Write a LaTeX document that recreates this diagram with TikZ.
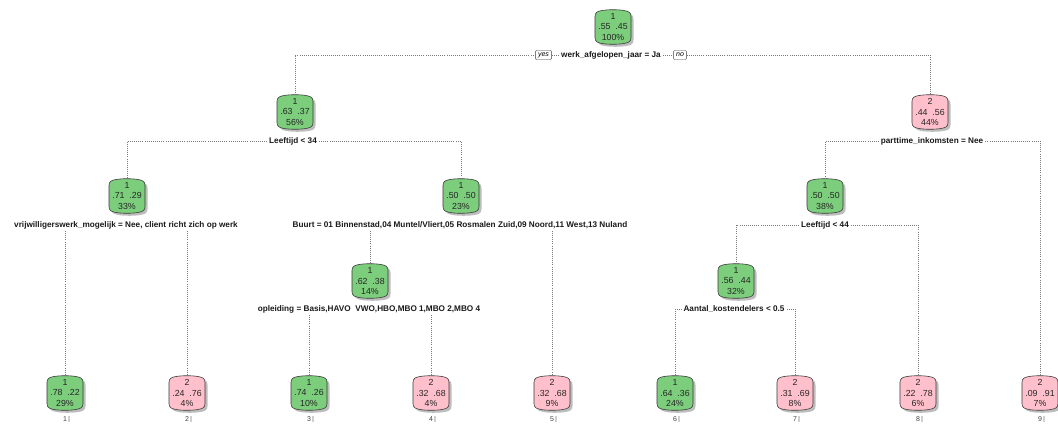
\documentclass[tikz,border=0pt]{standalone}
\usepackage{fontspec}
\setmainfont{Liberation Sans}
\definecolor{gfill}{HTML}{7CCD7C}
\definecolor{pfill}{HTML}{FFC0CB}
\definecolor{edgec}{HTML}{3A3A3A}
\definecolor{shadc}{HTML}{BDBDBD}
\definecolor{barc}{HTML}{CFCFCF}
\definecolor{linec}{HTML}{7A7A7A}
\tikzset{
  bpath/.style={insert path={(-18,-10.5) -- (-18,10.5) .. controls (-18,14.5) and (-15.5,15.7) .. (-12,16.3) .. controls (-6,17.6) and (6,17.6) .. (12,16.3) .. controls (15.5,15.7) and (18,14.5) .. (18,10.5) -- (18,-10.5) .. controls (18,-14.5) and (15.5,-15.7) .. (12,-16.3) .. controls (6,-17.6) and (-6,-17.6) .. (-12,-16.3) .. controls (-15.5,-15.7) and (-18,-14.5) .. (-18,-10.5) -- cycle}},
  ntext/.style={inner sep=0pt, minimum width=36pt, minimum height=35pt, align=center, font=\fontsize{8.8}{10.5}\selectfont, text=black!85},
  split/.style={font=\fontsize{8.2}{9}\selectfont\bfseries, inner sep=2pt, text=black!90},
  conn/.style={draw=linec, line width=0.55pt, dash pattern=on 0.6pt off 1.5pt},
  yn/.style={draw=edgec, fill=white, rounded corners=1pt, font=\fontsize{7}{7}\selectfont\itshape, inner xsep=2.5pt, inner ysep=1pt, line width=0.45pt, minimum height=9pt},
  leafnum/.style={font=\fontsize{7}{7}\selectfont, inner sep=0.8pt, text=black!75}
}
\newcommand\tn[5]{%
  \fill[shadc, shift={(#2+2.5,#3+2.5)}, bpath];
  \draw[edgec, line width=0.6pt, fill=#4, shift={(#2,#3)}, bpath];
  \node[ntext] (#1) at (#2,#3) {#5};
}
\begin{document}
\begin{tikzpicture}[x=1pt,y=-1pt]
\useasboundingbox (0,0) rectangle (1058,428);
\clip (0,0) rectangle (1058,428);
% internal nodes
\tn{n1}{613}{27}{gfill}{1\\.55\ \ .45\\100\%}
\tn{n2}{295}{112}{gfill}{1\\.63\ \ .37\\56\%}
\tn{n3}{930}{112}{pfill}{2\\.44\ \ .56\\44\%}
\tn{n4}{127}{196}{gfill}{1\\.71\ \ .29\\33\%}
\tn{n5}{461}{196}{gfill}{1\\.50\ \ .50\\23\%}
\tn{n6}{825}{196}{gfill}{1\\.50\ \ .50\\38\%}
\tn{n10}{370}{281}{gfill}{1\\.62\ \ .38\\14\%}
\tn{n12}{736}{281}{gfill}{1\\.56\ \ .44\\32\%}
% leaves
\tn{l1}{65}{393}{gfill}{1\\.78\ \ .22\\29\%}
\tn{l2}{187}{393}{pfill}{2\\.24\ \ .76\\4\%}
\tn{l3}{309}{393}{gfill}{1\\.74\ \ .26\\10\%}
\tn{l4}{431}{393}{pfill}{2\\.32\ \ .68\\4\%}
\tn{l5}{552}{393}{pfill}{2\\.32\ \ .68\\9\%}
\tn{l6}{675}{393}{gfill}{1\\.64\ \ .36\\24\%}
\tn{l7}{795}{393}{pfill}{2\\.31\ \ .69\\8\%}
\tn{l8}{918}{393}{pfill}{2\\.22\ \ .78\\6\%}
\tn{l9}{1040}{393}{pfill}{2\\.09\ \ .91\\7\%}
% split labels
\node[split] (s1) at (611,55) {werk\_afgelopen\_jaar = Ja};
\node[yn] (yes) at (543.5,55) {yes};
\node[yn] (no) at (680,55) {no};
\node[split] (s2) at (293,141) {Leeftijd < 34};
\node[split] (s3) at (932,141) {parttime\_inkomsten = Nee};
\node[split] (s4) at (126,225) {vrijwilligerswerk\_mogelijk = Nee, client richt zich op werk};
\node[split] (s5) at (460,225) {Buurt = 01 Binnenstad,04 Muntel/Vliert,05 Rosmalen Zuid,09 Noord,11 West,13 Nuland};
\node[split] (s6) at (825,225) {Leeftijd < 44};
\node[split] (s10) at (369,309) {opleiding = Basis,HAVO\ \ VWO,HBO,MBO 1,MBO 2,MBO 4};
\node[split] (s12) at (734,309) {Aantal\_kostendelers < 0.5};
% connectors
\draw[conn] (yes.west) -| (n2.north);
\draw[conn] (yes.east) -- (s1.west);
\draw[conn] (s1.east) -- (no.west);
\draw[conn] (no.east) -| (n3.north);
\draw[conn] (s2.west) -| (n4.north);
\draw[conn] (s2.east) -| (n5.north);
\draw[conn] (s3.west) -| (n6.north);
\draw[conn] (s3.east) -| (l9.north);
\draw[conn] (s4.south -| l1.north) -- (l1.north);
\draw[conn] (s4.south -| l2.north) -- (l2.north);
\draw[conn] (s5.south -| n10.north) -- (n10.north);
\draw[conn] (s5.south -| l5.north) -- (l5.north);
\draw[conn] (s6.west) -| (n12.north);
\draw[conn] (s6.east) -| (l8.north);
\draw[conn] (s10.south -| l3.north) -- (l3.north);
\draw[conn] (s10.south -| l4.north) -- (l4.north);
\draw[conn] (s12.west) -| (l6.north);
\draw[conn] (s12.east) -| (l7.north);
% leaf numbers
\foreach \i/\x in {1/65,2/187,3/309,4/431,5/552,6/675,7/795,8/918,9/1040}{
  \node[leafnum] (k\i) at (\x,419) {\i};
  \fill[barc] (k\i.north east) rectangle ([xshift=2pt,yshift=0.5pt]k\i.south east);
}
\end{tikzpicture}
\end{document}
